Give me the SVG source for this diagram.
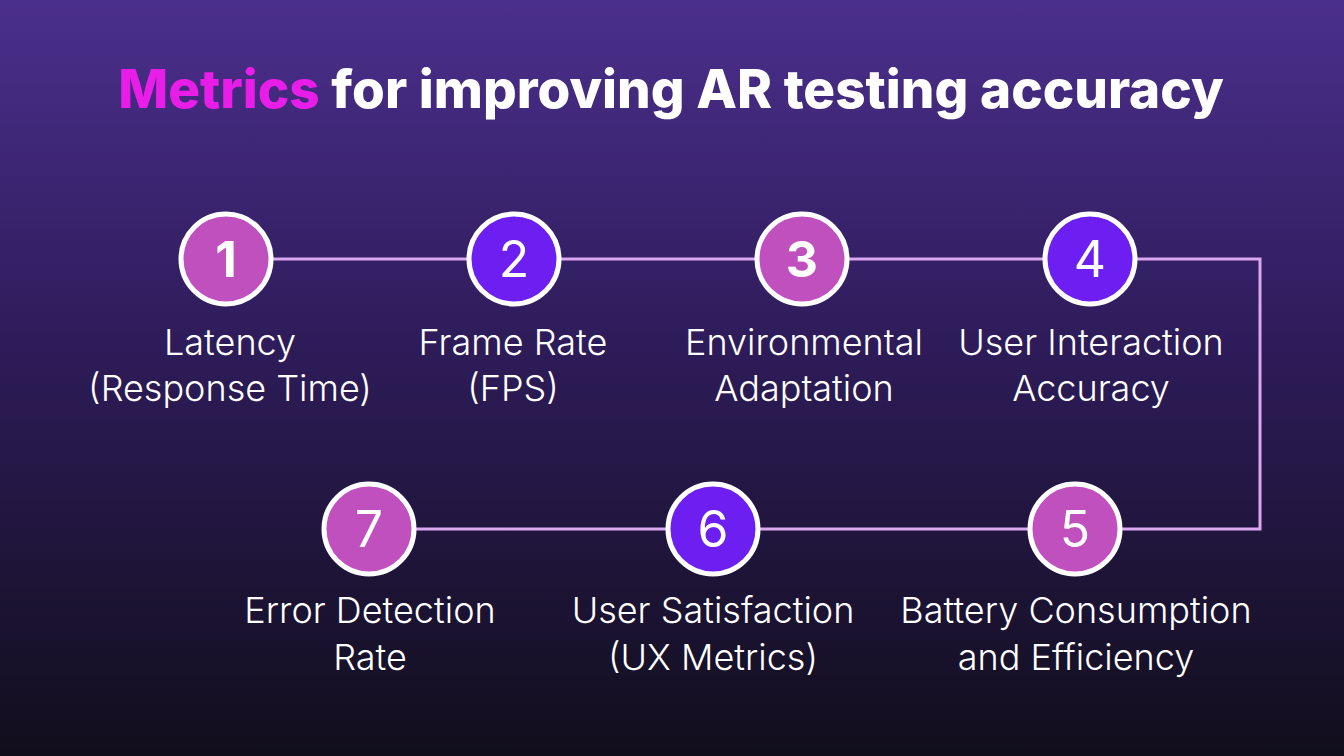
<svg xmlns="http://www.w3.org/2000/svg" width="1344" height="756" viewBox="0 0 1344 756">
<defs>
<linearGradient id="bg" x1="0" y1="0" x2="0" y2="1">
<stop offset="0" stop-color="#4B2F8C"/>
<stop offset="0.45" stop-color="#2E1C5A"/>
<stop offset="1" stop-color="#110E1C"/>
</linearGradient>
<style>
.c{stroke:#fff;stroke-width:5}
.p{fill:#C050BE}
.v{fill:#6C1FF0}
.n{font-family:Inter,"Liberation Sans",sans-serif;font-size:50px;fill:#fff;text-anchor:middle}
.l{font-family:Inter,"Liberation Sans",sans-serif;font-size:36px;fill:#fff;text-anchor:middle;font-weight:300}
.t{font-family:Inter,"Liberation Sans",sans-serif;font-size:53px;font-weight:800;fill:#fff;text-anchor:middle}
</style>
</defs>
<rect width="1344" height="756" fill="url(#bg)"/>
<text class="t" x="671" y="108"><tspan fill="#E81EE8">Metrics</tspan> for improving AR testing accuracy</text>
<g id="connectors" fill="none" stroke="#D9A8F0" stroke-width="3">
<path d="M226 259 H1260 V529 H369"/>
</g>
<g id="n1"><circle class="c p" cx="226" cy="259" r="45"/><text class="n" x="226" y="277" font-weight="700">1</text><text class="l" x="230" y="355">Latency</text><text class="l" x="230" y="401">(Response Time)</text></g>
<g id="n2"><circle class="c v" cx="514" cy="259" r="45"/><text class="n" x="514" y="277">2</text><text class="l" x="513" y="355">Frame Rate</text><text class="l" x="513" y="401">(FPS)</text></g>
<g id="n3"><circle class="c p" cx="802" cy="259" r="45"/><text class="n" x="802" y="277" font-weight="700">3</text><text class="l" x="804" y="355">Environmental</text><text class="l" x="804" y="401">Adaptation</text></g>
<g id="n4"><circle class="c v" cx="1090" cy="259" r="45"/><text class="n" x="1090" y="277">4</text><text class="l" x="1091" y="355">User Interaction</text><text class="l" x="1091" y="401">Accuracy</text></g>
<g id="n5"><circle class="c p" cx="1075" cy="529" r="45"/><text class="n" x="1075" y="547">5</text><text class="l" x="1076" y="623">Battery Consumption</text><text class="l" x="1076" y="670">and Efficiency</text></g>
<g id="n6"><circle class="c v" cx="713" cy="529" r="45"/><text class="n" x="713" y="547">6</text><text class="l" x="713" y="623">User Satisfaction</text><text class="l" x="713" y="670">(UX Metrics)</text></g>
<g id="n7"><circle class="c p" cx="369" cy="529" r="45"/><text class="n" x="369" y="547">7</text><text class="l" x="370" y="623">Error Detection</text><text class="l" x="370" y="670">Rate</text></g>
</svg>
